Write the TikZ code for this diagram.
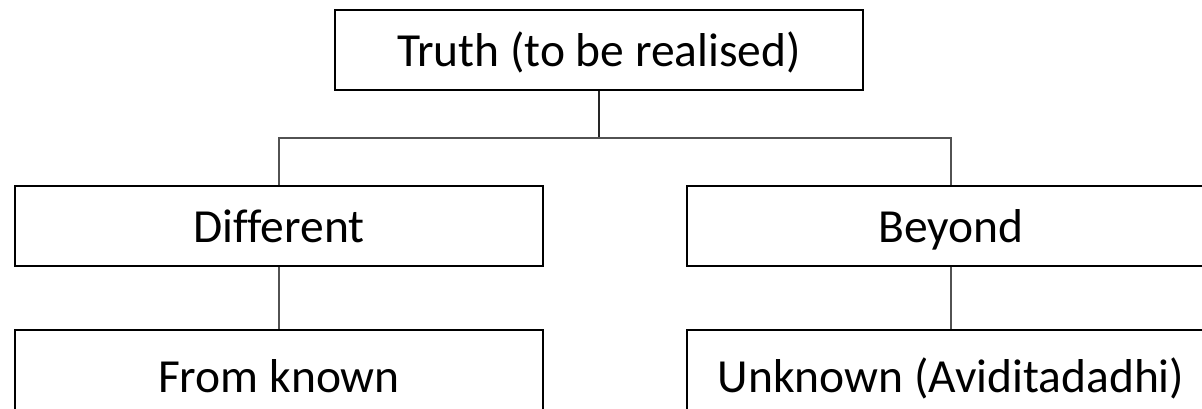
\documentclass[tikz,border=0pt]{standalone}
\usepackage{fontspec}
\setmainfont{Carlito}[Ligatures=NoCommon]
\begin{document}
\begin{tikzpicture}[x=1bp,y=-1bp,
  box/.style={draw=black,line width=1.7bp,fill=white,minimum width=528bp,minimum height=80bp,
    inner sep=0pt,text height=38bp,text depth=6bp,font=\fontsize{47.5bp}{58bp}\selectfont},
  tallbox/.style={box,minimum height=92bp},
  link/.style={draw=black!68,line width=1.1bp}]
\useasboundingbox (0,0) rectangle (1202,408);
\clip (0,0) rectangle (1202,408);
\fill[white] (0,0) rectangle (1202,408);
% tree of boxes
\node[box] (truth) at (599,50) {Truth (to be realised)};
\node[box] (diff) at (279,226) {Different};
\node[box] (beyond) at (951,226) {Beyond};
\node[tallbox] (known) at (279,376) {From known};
\node[tallbox] (unknown) at (951,376) {Unknown (Aviditadadhi)};
\coordinate (fork) at (599,138);
% connectors
\draw[link,draw=black!85] (truth.south) -- (fork);
\draw[link] (fork) -| (diff.north);
\draw[link] (fork) -| (beyond.north);
\draw[link] (diff.south) -- (known.north);
\draw[link] (beyond.south) -- (unknown.north);
\end{tikzpicture}
\end{document}
